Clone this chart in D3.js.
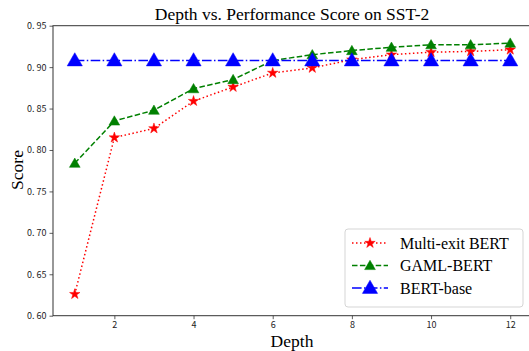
<!DOCTYPE html>
<html lang="en">
<head>
<meta charset="UTF-8">
<title>Depth vs. Performance Score on SST-2</title>
<script src="https://d3js.org/d3.v7.min.js"></script>
<style>
  html, body { margin: 0; padding: 0; background: #fff; overflow: hidden; }
  .tick text { font-family: "Noto Sans CJK SC", "DejaVu Sans", sans-serif; font-size: 9px; fill: #222; }
  .serif { font-family: "Liberation Serif", "DejaVu Serif", serif; fill: #000; }
</style>
</head>
<body>
<svg id="chart" width="529" height="351"></svg>
<script>
// data
const depths = [1, 2, 3, 4, 5, 6, 7, 8, 9, 10, 11, 12];
const multiExit = [0.626, 0.815, 0.826, 0.859, 0.876, 0.893, 0.899, 0.909, 0.915, 0.918, 0.919, 0.921];
const gamlBert = [0.784, 0.835, 0.848, 0.874, 0.885, 0.908, 0.915, 0.920, 0.924, 0.927, 0.927, 0.929];
const bertBase = [0.908, 0.908, 0.908, 0.908, 0.908, 0.908, 0.908, 0.908, 0.908, 0.908, 0.908, 0.908];
const xTicks = [2, 4, 6, 8, 10, 12];
const yTicks = [0.60, 0.65, 0.70, 0.75, 0.80, 0.85, 0.90, 0.95];

const svg = d3.select("#chart");
const m = { left: 53, top: 25.7, right: 532, bottom: 315.7 };

const x = d3.scaleLinear().domain([0.45, 12.55]).range([m.left, m.right]);
const y = d3.scaleLinear().domain([0.60, 0.95]).range([m.bottom, m.top]);

// axes
const fmt = d => d.toFixed(2).replace(".", ". ");
svg.append("g")
  .attr("transform", `translate(0,${m.bottom})`)
  .call(d3.axisBottom(x).tickValues(xTicks).tickSize(3.5).tickPadding(2))
  .call(g => g.select(".domain").remove());
svg.append("g")
  .attr("transform", `translate(${m.left},0)`)
  .call(d3.axisLeft(y).tickValues(yTicks).tickFormat(fmt).tickSize(3.5).tickPadding(3))
  .call(g => g.select(".domain").remove());
svg.selectAll(".tick line").attr("stroke", "#333").attr("stroke-width", 0.8);

// frame
svg.append("rect")
  .attr("x", m.left).attr("y", m.top)
  .attr("width", m.right - m.left).attr("height", m.bottom - m.top)
  .attr("fill", "none").attr("stroke", "#333").attr("stroke-width", 1);

const series = [
  { name: "Multi-exit BERT", values: multiExit, color: "red", dash: "1.5,2.5", marker: "star", size: 34 },
  { name: "GAML-BERT", values: gamlBert, color: "green", dash: "5.5,2.4", marker: "tri", size: 50 },
  { name: "BERT-base", values: bertBase, color: "blue", dash: "9.6,2.4,1.5,2.4", marker: "tri", size: 100 }
];

const line = d3.line().x((d, i) => x(depths[i])).y(d => y(d));
const sym = s => d3.symbol().type(s.marker === "star" ? d3.symbolStar : d3.symbolTriangle).size(s.size);

const plot = svg.append("g");
series.forEach(s => {
  plot.append("path")
    .datum(s.values)
    .attr("d", line)
    .attr("fill", "none")
    .attr("stroke", s.color)
    .attr("stroke-width", 1.5)
    .attr("stroke-dasharray", s.dash);
  plot.selectAll(null)
    .data(s.values)
    .join("path")
    .attr("d", sym(s))
    .attr("transform", (d, i) => `translate(${x(depths[i])},${y(d) + (s.marker === "tri" ? 1 : 0)})`)
    .attr("fill", s.color)
    .attr("stroke", s.color)
    .attr("stroke-width", 0.5);
});

// title and axis labels
svg.append("text").attr("class", "serif")
  .attr("x", 292).attr("y", 20).attr("text-anchor", "middle")
  .attr("font-size", 17.5).text("Depth vs. Performance Score on SST-2");
svg.append("text").attr("class", "serif")
  .attr("x", 292).attr("y", 347).attr("text-anchor", "middle")
  .attr("font-size", 17.5).text("Depth");
svg.append("text").attr("class", "serif")
  .attr("transform", "translate(23,170) rotate(-90)").attr("text-anchor", "middle")
  .attr("font-size", 17.5).text("Score");

// legend
const lg = svg.append("g").attr("transform", "translate(345,229)");
lg.append("rect")
  .attr("width", 178).attr("height", 78).attr("rx", 3)
  .attr("fill", "#fff").attr("fill-opacity", 0.8)
  .attr("stroke", "#d5d5d5").attr("stroke-width", 1);
series.forEach((s, i) => {
  const ry = 14 + i * 22.5;
  lg.append("line")
    .attr("x1", 7).attr("x2", 43).attr("y1", ry).attr("y2", ry)
    .attr("stroke", s.color).attr("stroke-width", 1.5)
    .attr("stroke-dasharray", s.dash);
  lg.append("path")
    .attr("d", sym(s))
    .attr("transform", `translate(25,${ry + (s.marker === "tri" ? 1 : 0)})`)
    .attr("fill", s.color).attr("stroke", s.color).attr("stroke-width", 0.5);
  lg.append("text").attr("class", "serif")
    .attr("x", 55).attr("y", ry + 5.5)
    .attr("font-size", 16).text(s.name);
});
</script>
</body>
</html>
